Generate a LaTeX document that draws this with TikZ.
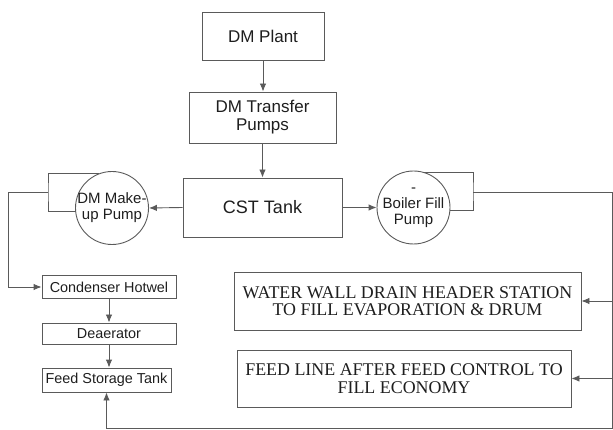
\documentclass[tikz,border=0pt]{standalone}
\usepackage{fontspec}
\setmainfont{Liberation Serif}
\setsansfont{Liberation Sans}
\usetikzlibrary{arrows.meta,positioning,calc}
\definecolor{boxgray}{HTML}{5A5A5A}
\definecolor{inkblack}{HTML}{1E1E1E}

\begin{document}
\begin{tikzpicture}[
    x=1pt, y=-1pt,
    >={Latex[length=8pt,width=6.5pt]},
    line width=0.9pt,
    plantbox/.style = {draw=boxgray, fill=white, text=inkblack, align=center,
                       inner sep=2pt, font=\sffamily\fontsize{17}{18}\selectfont},
    pump/.style     = {circle, draw=boxgray, minimum size=73pt, inner sep=0pt},
    pumptext/.style = {text=inkblack, align=center, inner sep=0pt,
                       font=\sffamily\fontsize{15}{16}\selectfont},
    linebox/.style  = {draw=boxgray, text=inkblack, minimum width=134pt,
                       minimum height=23pt, inner sep=1pt,
                       font=\sffamily\fontsize{14.4}{16}\selectfont},
    bigbox/.style   = {draw=boxgray, text=inkblack, align=center, inner sep=1pt,
                       font=\rmfamily\fontsize{17.9}{17.5}\selectfont},
    pipe/.style     = {draw=boxgray, line width=0.9pt},
    flow/.style     = {pipe, ->},
  ]
  \useasboundingbox (0,0) rectangle (613,430);

  % ===================================================================
  % Top chain: DM plant -> transfer pumps -> CST tank
  % ===================================================================
  \node[plantbox, minimum width=122pt, minimum height=48pt] (dmp)
    at (263,36) {DM Plant};
  \node[plantbox, minimum width=147pt, minimum height=51pt] (dmtp)
    at (262.5,117.5) {DM Transfer\\Pumps};
  \node[plantbox, minimum width=159pt, minimum height=59pt,
        font=\sffamily\fontsize{18}{19}\selectfont] (cst)
    at (262.5,207.5) {CST Tank};

  \draw[flow] (dmp.south) -- (dmp.south |- dmtp.north);
  \draw[flow] (dmtp.south) -- (dmtp.south |- cst.north);

  % ===================================================================
  % Pumps on either side of the CST tank
  % ===================================================================
  \node[pump, label={[pumptext]center:DM Make-\\up Pump}] (mup)
    at (112,208) {};
  \node[pump, label={[pumptext]center:-\\Boiler Fill\\Pump}] (bfp)
    at (413.5,207.5) {};

  \draw[flow] (cst.west) -- (mup.east);
  \draw[flow] (cst.east) -- (bfp.west);

  % recirculation loops round the pumps
  \coordinate (mloop) at (48,192);
  \coordinate (bloop) at (473,192);
  \draw[pipe] (mup.110) -| (mloop) |- (mup.185);
  \draw[pipe] (bfp.74) -| (bloop) |- (bfp.-5);

  % ===================================================================
  % Left column: hotwell -> deaerator -> feed storage tank
  % ===================================================================
  \node[linebox] (hotwel) at (109,287) {Condenser Hotwel};
  \node[linebox, minimum height=21pt] (dea) at (109,333.5) {Deaerator};
  \node[linebox, minimum width=129pt, minimum height=24pt] (fst)
    at (106.5,380) {Feed Storage Tank};

  \draw[flow] (mloop) -- ++(-40,0) |- (hotwel.west);
  \draw[flow] (hotwel.south) -- (dea.north);
  \draw[flow] (dea.south) -- (dea.south |- fst.north);

  % ===================================================================
  % Right side: boiler fill header
  % ===================================================================
  \node[bigbox, minimum width=347pt, minimum height=58pt] (ww)
    at (407.5,301) {WATER WALL DRAIN HEADER STATION\\TO FILL EVAPORATION \& DRUM};
  \node[bigbox, minimum width=334pt, minimum height=57pt] (fl)
    at (404,378.5) {FEED LINE AFTER FEED CONTROL TO\\FILL ECONOMY};

  \coordinate (rtop) at (612,192);
  \coordinate (rbot) at (612,428);
  \draw[flow] (bloop) -- (rtop) -- (rbot) -| (fst.south);
  \draw[flow] (rtop |- ww.east) -- (ww.east);
  \draw[flow] (rtop |- fl.east) -- (fl.east);

\end{tikzpicture}
\end{document}
